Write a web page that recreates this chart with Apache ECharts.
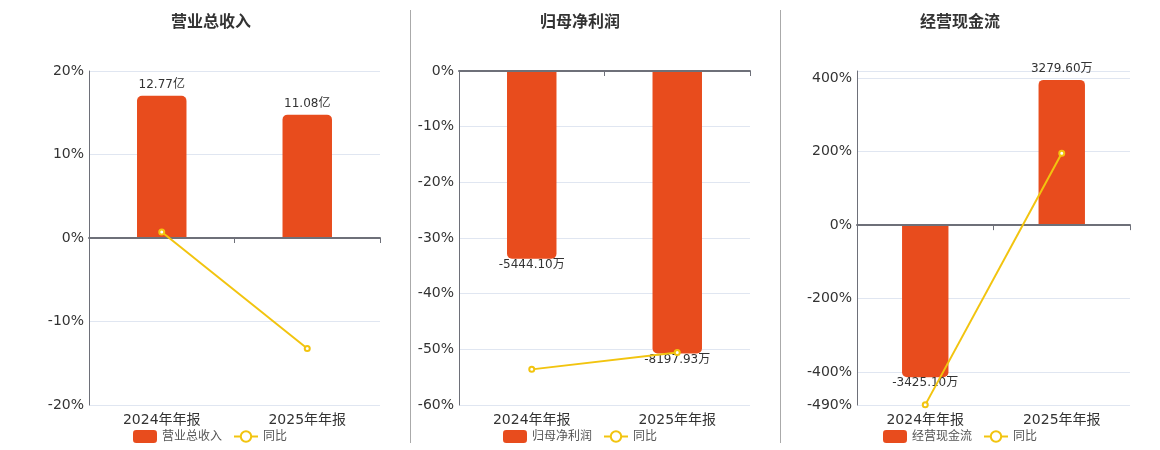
<!DOCTYPE html>
<html>
<head>
<meta charset="utf-8">
<script src="https://cdn.jsdelivr.net/npm/echarts@6/dist/echarts.min.js"></script>
<style>
  html, body { margin: 0; padding: 0; background: #fff; }
  #chart { width: 1160px; height: 450px; }
</style>
</head>
<body>
<div id="chart"></div>
<script>
// data
var categories = ['2024年年报', '2025年年报'];
var titles = ['营业总收入', '归母净利润', '经营现金流'];

var revenueValues = [12.77, 11.08];      // 亿
var revenueYoy = [0.72, -13.23];         // %
var profitValues = [-5444.10, -8197.93]; // 万
var profitYoy = [-53.6, -50.58];         // %
var cashValues = [-3425.10, 3279.60];    // 万
var cashYoy = [-489.61, 195.75];         // %

var BAR_COLOR = '#e84c1d';
var LINE_COLOR = '#f2c40f';
var FONT = "'DejaVu Sans', 'Noto Sans CJK SC', sans-serif";

// layout of the three panels
var panels = [
    {grid: {left: 89, right: 780, top: 71, bottom: 45}, center: 211, legendLeft: 133,
     values: revenueValues, yoy: revenueYoy, unit: '亿',
     pct: {min: -20, max: 20, interval: 10}, amount: {min: -15, max: 15}},
    {grid: {left: 459, right: 410, top: 71, bottom: 45}, center: 580, legendLeft: 503,
     values: profitValues, yoy: profitYoy, unit: '万',
     pct: {min: -60, max: 0, interval: 10}, amount: {min: -9690, max: 0}},
    {grid: {left: 857, right: 30, top: 71, bottom: 45}, center: 960, legendLeft: 883,
     values: cashValues, yoy: cashYoy, unit: '万',
     pct: {min: -490, max: 420}, amount: {min: -4050, max: 3480}}
];

var option = {
    animation: false,
    textStyle: {fontFamily: FONT},
    title: [], legend: [], grid: [], xAxis: [], yAxis: [], series: [],
    graphic: [
        {type: 'line', shape: {x1: 410.5, y1: 10, x2: 410.5, y2: 443}, style: {stroke: '#aaa', lineWidth: 1}},
        {type: 'line', shape: {x1: 780.5, y1: 10, x2: 780.5, y2: 443}, style: {stroke: '#aaa', lineWidth: 1}}
    ]
};

panels.forEach(function (p, i) {
    option.title.push({
        text: titles[i], left: p.center, top: 15, padding: 0, textAlign: 'center',
        textStyle: {fontSize: 16, fontWeight: 'bold', color: '#333', fontFamily: FONT}
    });
    option.legend.push({
        left: p.legendLeft, top: 430, padding: 0, itemWidth: 24, itemHeight: 13, itemGap: 11,
        data: [titles[i], '同比'],
        textStyle: {fontSize: 12, color: '#555', fontFamily: FONT}
    });
    option.grid.push(p.grid);

    // bottom axis carries the labels, second axis draws the zero line
    option.xAxis.push({
        type: 'category', gridIndex: i, data: categories, position: 'bottom',
        axisLine: {show: false}, axisTick: {show: false},
        axisLabel: {fontSize: 14, color: '#333', margin: 8, fontFamily: FONT}
    });
    option.xAxis.push({
        type: 'category', gridIndex: i, data: categories, position: 'top',
        axisLine: {show: true, onZero: true, onZeroAxisIndex: i * 2, lineStyle: {color: '#6e7079', width: 2}},
        axisTick: {show: true, inside: true, length: 5, lineStyle: {color: '#6e7079'}},
        axisLabel: {show: false}, z: 5
    });

    var pctAxis = {
        type: 'value', gridIndex: i, position: 'left', min: p.pct.min, max: p.pct.max,
        axisLine: {show: true, lineStyle: {color: '#6e7079'}},
        axisTick: {show: false},
        axisLabel: {formatter: '{value}%', fontSize: 14, color: '#333', margin: 5, showMaxLabel: i !== 2, fontFamily: FONT},
        splitLine: {lineStyle: {color: '#e0e6f1'}}
    };
    if (p.pct.interval) pctAxis.interval = p.pct.interval;
    option.yAxis.push(pctAxis);
    option.yAxis.push({
        type: 'value', gridIndex: i, position: 'right', show: false,
        min: p.amount.min, max: p.amount.max, splitLine: {show: false}
    });

    option.series.push({
        name: titles[i], type: 'bar', xAxisIndex: i * 2, yAxisIndex: i * 2 + 1,
        barWidth: '34%',
        itemStyle: {color: BAR_COLOR},
        data: p.values.map(function (v) {
            return {
                value: v,
                itemStyle: {borderRadius: v >= 0 ? [5, 5, 0, 0] : [0, 0, 5, 5]},
                label: {position: v >= 0 ? 'top' : 'bottom', distance: v >= 0 ? 5 : 0}
            };
        }),
        label: {
            show: true, fontSize: 12, color: '#333', fontFamily: FONT,
            formatter: function (d) { return d.value.toFixed(2) + p.unit; }
        }
    });
    option.series.push({
        name: '同比', type: 'line', xAxisIndex: i * 2, yAxisIndex: i * 2, z: 6,
        data: p.yoy,
        symbol: 'emptyCircle', symbolSize: 5,
        itemStyle: {color: LINE_COLOR},
        lineStyle: {color: LINE_COLOR, width: 2}
    });
});

var myChart = echarts.init(document.getElementById('chart'));
myChart.setOption(option);
</script>
</body>
</html>
